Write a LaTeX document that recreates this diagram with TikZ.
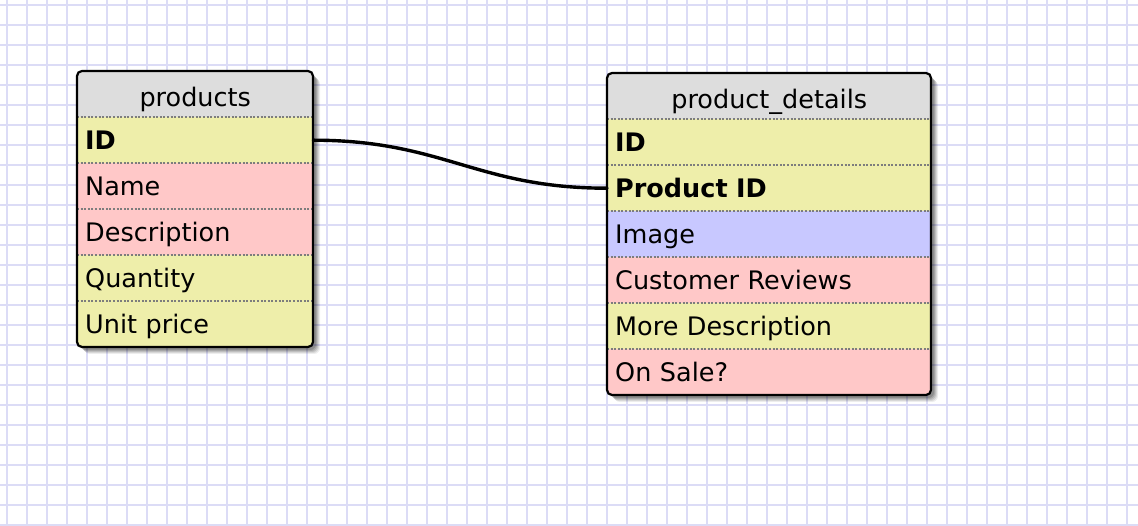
\documentclass[tikz,border=0pt]{standalone}
\usepackage{fontspec}
\setmainfont{DejaVu Sans}
\usetikzlibrary{calc}

\definecolor{gridc}{RGB}{220,220,246}
\definecolor{headc}{RGB}{221,221,221}
\definecolor{keyc}{RGB}{238,238,170}
\definecolor{txtc}{RGB}{255,200,200}
\definecolor{imgc}{RGB}{200,200,255}
\definecolor{sepc}{RGB}{125,125,125}

\begin{document}
\begin{tikzpicture}[x=1pt, y=-1pt, line cap=round, line join=round,
    font=\fontsize{25.5}{30}\selectfont,
    gridline/.style={gridc, line width=2pt},
    row/.style={anchor=north west, minimum height=46pt, inner xsep=8pt, inner ysep=0pt,
      text height=18.6pt, text depth=0pt, align=left},
    head/.style={row, fill=headc, align=center},
    sep/.style={sepc, line width=2pt, line cap=butt, dash pattern=on 2pt off 1.6pt},
    frame/.style={draw=black, line width=2.2pt, rounded corners=5pt},
    link/.style={line width=3.4pt}]

  % parameters (pixel units, y pointing down)
  \def\pX{77}  \def\pY{71}  \def\pW{236}  % products
  \def\dX{607} \def\dY{73}  \def\dW{324}  % product_details
  \def\rowH{46}

  \pgfmathsetmacro{\pB}{\pY+6*\rowH}
  \pgfmathsetmacro{\dB}{\dY+7*\rowH}
  \pgfmathsetmacro{\pT}{\pW-16}
  \pgfmathsetmacro{\dT}{\dW-16}

  % paper and grid
  \useasboundingbox (0,0) rectangle (1138,526);
  \fill[white] (0,0) rectangle (1138,526);
  \foreach \gx in {7,27,...,1137} \draw[gridline] (\gx,0) -- (\gx,526);
  \foreach \gy in {5,25,...,525} \draw[gridline] (0,\gy) -- (1138,\gy);

  % soft shadows
  \foreach \o/\a in {7/0.07, 6/0.09, 5/0.11, 4/0.13, 3/0.15} {
    \fill[black, opacity=\a, rounded corners=6pt] (\pX+\o,\pY+\o) rectangle (\pX+\pW+\o,\pB+\o);
    \fill[black, opacity=\a, rounded corners=6pt] (\dX+\o,\dY+\o) rectangle (\dX+\dW+\o,\dB+\o);
  }

  % products table
  \begin{scope}
    \clip[rounded corners=5pt] (\pX,\pY) rectangle (\pX+\pW,\pB);
    \node[head, text width=\pT pt] (p-head) at (\pX,\pY) {\raisebox{-3pt}{products}};
    \foreach \lbl/\col/\wt [count=\i from 0] in
      {ID/keyc/\bfseries, Name/txtc/\mdseries, Description/txtc/\mdseries,
       Quantity/keyc/\mdseries, Unit price/keyc/\mdseries} {
      \node[row, fill=\col, text width=\pT pt] (p-\i) at (\pX,\pY+\rowH+\i*\rowH) {\wt\lbl};
      \draw[sep] (p-\i.north west) -- (p-\i.north east);
    }
  \end{scope}
  \draw[frame] (\pX,\pY) rectangle (\pX+\pW,\pB);

  % product_details table
  \begin{scope}
    \clip[rounded corners=5pt] (\dX,\dY) rectangle (\dX+\dW,\dB);
    \node[head, text width=\dT pt] (d-head) at (\dX,\dY) {\raisebox{-3pt}{product\_details}};
    \foreach \lbl/\col/\wt [count=\i from 0] in
      {ID/keyc/\bfseries, Product ID/keyc/\bfseries, Image/imgc/\mdseries,
       Customer Reviews/txtc/\mdseries, More Description/keyc/\mdseries,
       On Sale?/txtc/\mdseries} {
      \node[row, fill=\col, text width=\dT pt] (d-\i) at (\dX,\dY+\rowH+\i*\rowH) {\wt\lbl};
      \draw[sep] (d-\i.north west) -- (d-\i.north east);
    }
  \end{scope}
  \draw[frame] (\dX,\dY) rectangle (\dX+\dW,\dB);

  % relation products.ID -> product_details.Product ID
  \draw[link] (p-0.east) .. controls +(130,0) and +(-130,0) .. (d-1.west);

\end{tikzpicture}
\end{document}
